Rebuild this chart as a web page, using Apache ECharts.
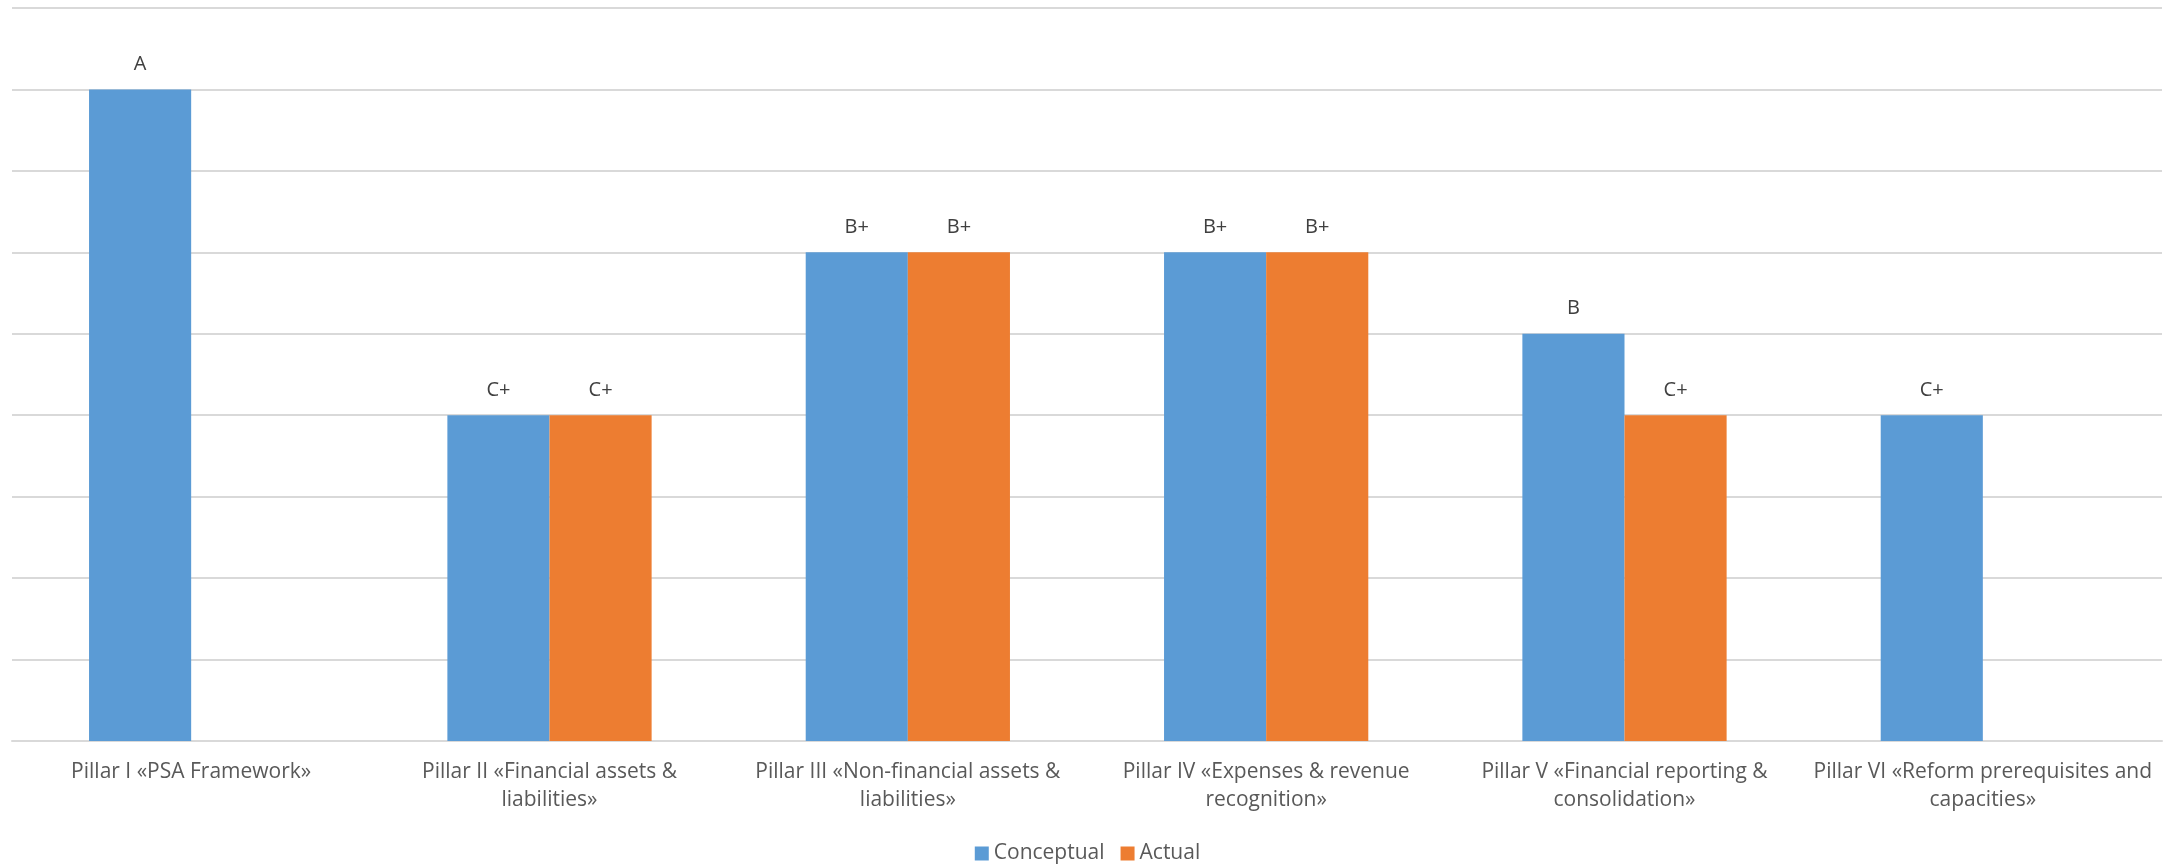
<!DOCTYPE html>
<html><head><meta charset="utf-8">
<script src="https://cdn.jsdelivr.net/npm/echarts@6/dist/echarts.min.js"></script>
<style>html,body{margin:0;padding:0;background:#fff}#c{width:2175px;height:866px}</style>
</head><body><div id="c"></div>
<script>
const categories = [
  "Pillar I «PSA Framework»",
  "Pillar II «Financial assets &\nliabilities»",
  "Pillar III «Non-financial assets &\nliabilities»",
  "Pillar IV «Expenses & revenue\nrecognition»",
  "Pillar V «Financial reporting &\nconsolidation»",
  "Pillar VI «Reform prerequisites and\ncapacities»"
];
const conceptualValues = [8, 4, 6, 6, 5, 4];
const conceptualGrades = ["A", "C+", "B+", "B+", "B", "C+"];
const actualValues = [null, 4, 6, 6, 4, null];
const actualGrades = ["", "C+", "B+", "B+", "C+", ""];

const font = "'Open Sans', sans-serif";
const chart = echarts.init(document.getElementById('c'));
chart.setOption({
  animation: false,
  grid: { left: 12, right: 13, top: 8, bottom: 125, containLabel: false },
  legend: {
    top: 838, left: 'center', itemWidth: 14, itemHeight: 14, itemGap: 16,
    icon: 'rect',
    textStyle: { fontFamily: font, fontSize: 21, color: '#595959' },
    data: ['Conceptual', 'Actual']
  },
  xAxis: {
    type: 'category', data: categories,
    axisLine: { lineStyle: { color: '#d9d9d9', width: 2 } },
    axisTick: { show: false },
    axisLabel: { fontFamily: font, fontSize: 21, color: '#595959', lineHeight: 28, margin: 17, interval: 0 }
  },
  yAxis: {
    type: 'value', min: 0, max: 9, interval: 1,
    axisLabel: { show: false }, axisLine: { show: false }, axisTick: { show: false },
    splitLine: { lineStyle: { color: '#d9d9d9', width: 2 } }
  },
  series: [
    {
      name: 'Conceptual', type: 'bar', data: conceptualValues,
      barGap: '0%', barCategoryGap: '43%',
      itemStyle: { color: '#5B9BD5' },
      label: { show: true, position: 'top', distance: 15, fontFamily: font, fontSize: 20, color: '#404040',
        formatter: p => conceptualGrades[p.dataIndex] }
    },
    {
      name: 'Actual', type: 'bar', data: actualValues,
      itemStyle: { color: '#ED7D31' },
      label: { show: true, position: 'top', distance: 15, fontFamily: font, fontSize: 20, color: '#404040',
        formatter: p => actualGrades[p.dataIndex] }
    }
  ]
});
</script></body></html>
